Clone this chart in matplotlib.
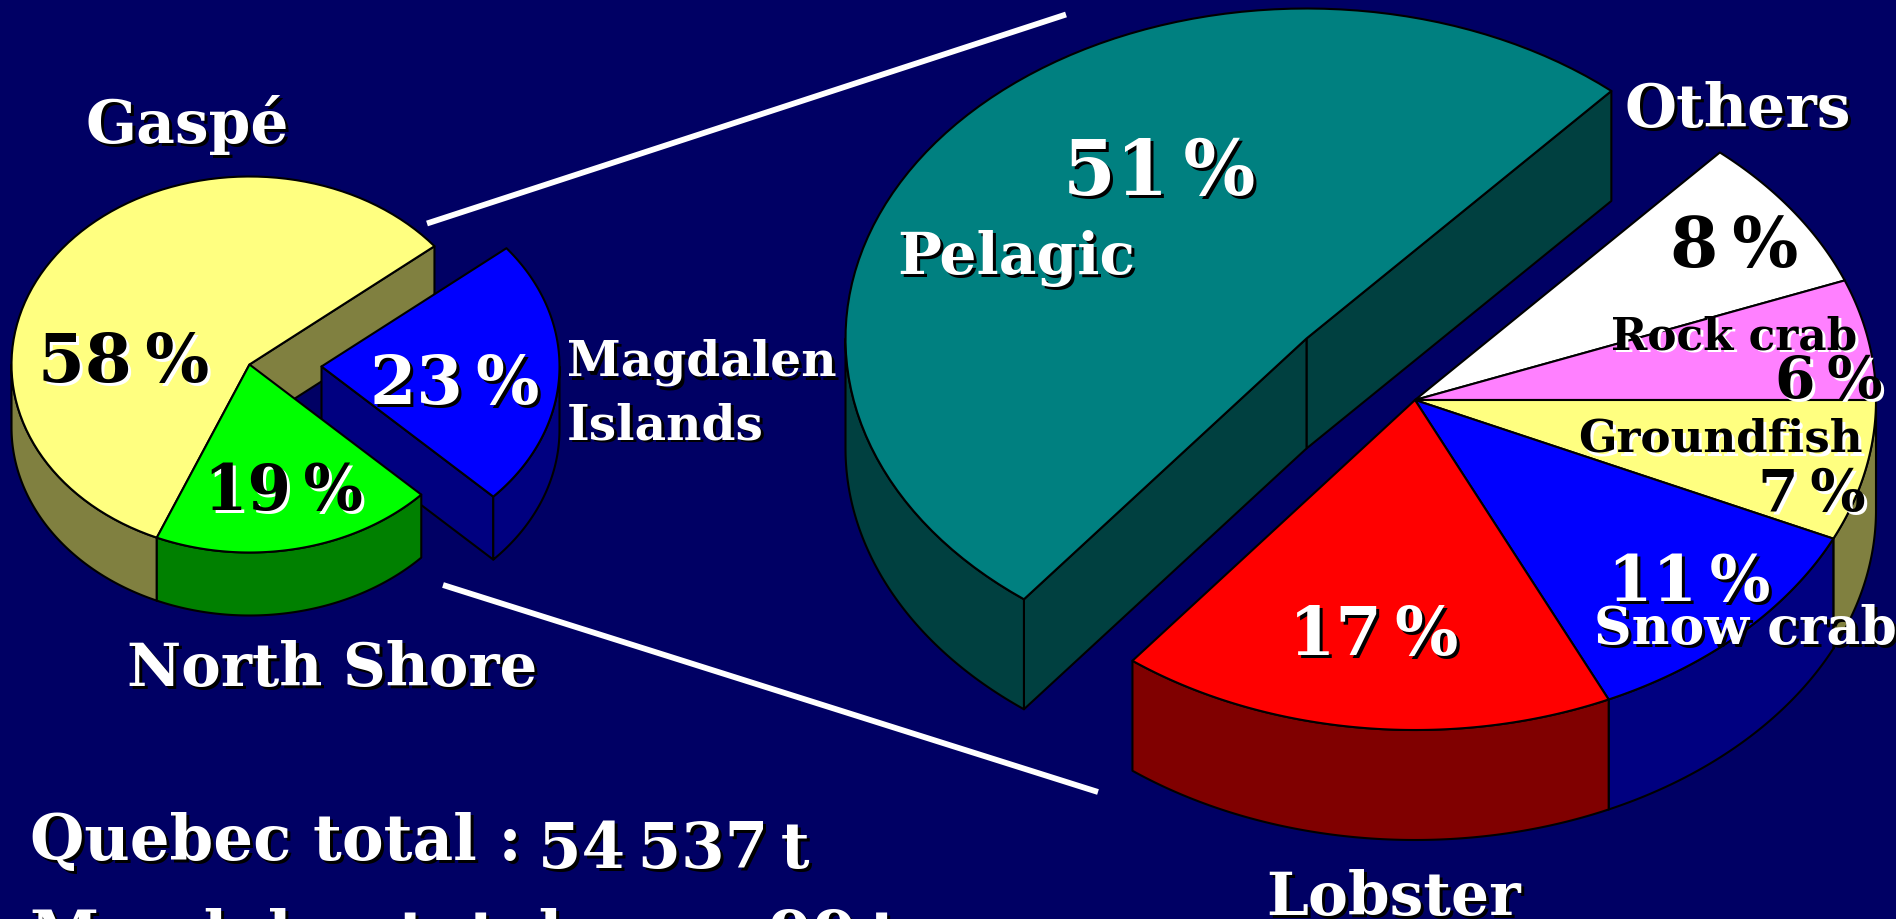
import numpy as np
import matplotlib
matplotlib.use("Agg")
import matplotlib.pyplot as plt
from matplotlib.patches import Polygon

# ---------- data ----------
region_names = ["Gaspé", "North Shore", "Magdalen Islands"]
region_shares = [57.8, 19.2, 23.0]
region_labels = ["58\u2009%", "19\u2009%", "23\u2009%"]
species_names = ["Pelagic", "Lobster", "Snow crab", "Groundfish", "Rock crab", "Others"]
species_shares = [51.0, 17.4, 11.2, 6.9, 5.9, 7.6]
species_labels = ["51\u2009%", "17\u2009%", "11\u2009%", "7\u2009%", "6\u2009%", "8\u2009%"]
total_lines = ["Quebec total :", "54\u2009537\u2009t", "Magdalen total :", "99\u2009t"]

# ---------- style ----------
BG = "#000064"
SERIF = ["DejaVu Serif", "Liberation Serif"]
region_top = ["#FFFF80", "#00FF00", "#0000FF"]
region_side = ["#808040", "#008000", "#000080"]
species_top = ["#008080", "#FF0000", "#0000FF", "#FFFF80", "#FF80FF", "#FFFFFF"]
species_side = ["#004040", "#800000", "#000080", "#808040", "#804080", "#808080"]

fig = plt.figure(figsize=(18.96, 9.19), dpi=100, facecolor=BG)
ax = fig.add_axes([0, 0, 1, 1])
ax.set_xlim(0, 1896)
ax.set_ylim(919, 0)
ax.axis("off")


def pt(c, r, deg):
    t = np.radians(deg)
    return c[0] + r[0] * np.cos(t), c[1] - r[1] * np.sin(t)


def arc(c, r, a0, a1, n=90):
    t = np.radians(np.linspace(a0, a1, n))
    return np.column_stack([c[0] + r[0] * np.cos(t), c[1] - r[1] * np.sin(t)])


def poly(xy, fc, z):
    ax.add_patch(Polygon(xy, closed=True, fc=fc, ec="black", lw=1.5, zorder=z, joinstyle="round"))


def slice3d(c, r, depth, a0, a1, top, side, z):
    p = np.array(c, float)
    if np.cos(np.radians(a0)) > 0:
        e = np.array(pt(c, r, a0))
        poly([p, e, e + [0, depth], p + [0, depth]], side, z)
    if a0 < 180 < a1 and np.cos(np.radians(a1)) < 0:
        e = np.array(pt(c, r, a1))
        poly([p, e, e + [0, depth], p + [0, depth]], side, z)
    for k in (0, 1):
        lo = max(a0, 180 + 360 * k)
        hi = min(a1, 360 + 360 * k)
        if hi > lo:
            rim = arc(c, r, lo, hi)
            poly(np.vstack([rim, (rim + [0, depth])[::-1]]), side, z + 0.1)
    poly(np.vstack([[c], arc(c, r, a0, a1)]), top, z + 0.2)


def shadow_text(x, y, s, size, color, sh, d=3, z=20):
    ax.text(x + d, y + d, s, fontsize=size, color=sh, family=SERIF, weight="bold", zorder=z, clip_on=False)
    ax.text(x, y, s, fontsize=size, color=color, family=SERIF, weight="bold", zorder=z + 1, clip_on=False)


def bounds(shares, start):
    return start + np.concatenate([[0], np.cumsum(shares)]) * 3.6


# ---------- small pie ----------
c_small = (249.5, 364.5)
r_small = (238, 188)
b = bounds(region_shares, 39)
slice3d(c_small, r_small, 63, b[0], b[1], region_top[0], region_side[0], 1)
slice3d((321.5, 366.5), r_small, 63, b[2], b[3], region_top[2], region_side[2], 2)
slice3d(c_small, r_small, 63, b[1], b[2], region_top[1], region_side[1], 3)

# ---------- large pie ----------
c_big = (1415, 400)
c_pel = (1306.5, 338.5)
r_big = (461, 330)
b2 = bounds(species_shares, 48.6)
slice3d(c_pel, r_big, 110, b2[0], b2[1], species_top[0], species_side[0], 1)
for i in range(5, 0, -1):
    slice3d(c_big, r_big, 110, b2[i], b2[i + 1], species_top[i], species_side[i], 3 + (5 - i))

# ---------- connectors ----------
ax.plot([427, 1066], [223.5, 14.5], color="white", lw=4.2, zorder=5, solid_capstyle="butt")
ax.plot([443, 1098], [585, 792], color="white", lw=4.2, zorder=5, solid_capstyle="butt")

# ---------- labels ----------
W, K = "white", "black"
shadow_text(86, 143, region_names[0], 43, W, K)
shadow_text(127, 686, region_names[1], 42.7, W, K)
shadow_text(567, 376, "Magdalen", 35, W, K)
shadow_text(567, 439, "Islands", 35, W, K)
shadow_text(38, 382, region_labels[0], 48.5, K, W)
shadow_text(204, 510, region_labels[1], 45, K, W)
shadow_text(370, 404, region_labels[2], 48, W, K)

shadow_text(1063, 195, species_labels[0], 54.5, W, K)
shadow_text(897, 274, species_names[0], 42, W, K)
shadow_text(1625, 127, species_names[5], 43, W, K)
shadow_text(1670, 267, species_labels[5], 50, K, W)
shadow_text(1611, 349, species_names[4], 31.5, K, W)
shadow_text(1775, 398, species_labels[4], 42, K, W)
shadow_text(1578, 452, species_names[3], 32.6, K, W)
shadow_text(1758, 511, species_labels[3], 42, K, W)
shadow_text(1608, 601, species_labels[2], 46, W, K)
shadow_text(1594, 644, species_names[2], 37.5, W, K)
shadow_text(1289, 655, species_labels[1], 48, W, K)
shadow_text(1266, 915, species_names[1], 43, W, K)

shadow_text(30, 860, total_lines[0], 45, W, K)
shadow_text(538, 868, total_lines[1], 45, W, K)
shadow_text(30, 956, total_lines[2], 45, W, K)
shadow_text(768, 956, total_lines[3], 46, W, K)

fig.savefig("out.png", dpi=100, facecolor=BG)
